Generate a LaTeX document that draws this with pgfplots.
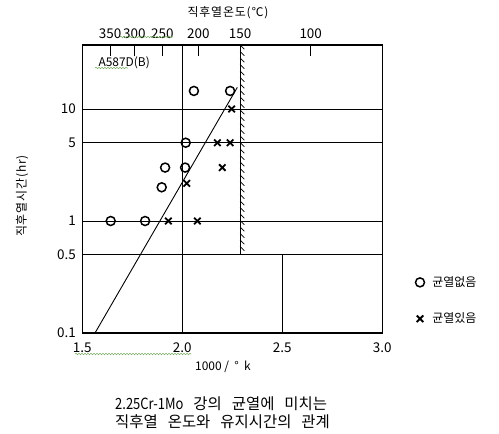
\documentclass[border=0pt]{standalone}
\usepackage{fontspec}
\setmainfont{Noto Sans CJK KR}
\usepackage{graphicx}
\usepackage{pgfplots}
\pgfplotsset{compat=1.18}
\usetikzlibrary{decorations.pathreplacing,decorations.pathmorphing}

\definecolor{spellgreen}{RGB}{125,175,105}

\newcommand{\tickfont}{\fontsize{13.5}{15}\selectfont}
\newcommand{\lblfont}{\fontsize{12}{14}\selectfont}
\newcommand{\capfont}{\fontsize{15.5}{18}\selectfont}
\newcommand{\gap}{\hspace{10bp}}

\begin{document}
\begin{tikzpicture}[x=1bp,y=1bp]
\useasboundingbox (0,0) rectangle (499,434);

\pgfplotsset{every axis/.append style={
  at={(82.3bp,101bp)}, anchor=south west,
  scale only axis, width=300bp, height=288bp,
  xmin=1.5, xmax=3.0}}

% temperature scale along the top edge
\begin{axis}[
  axis x line*=top, axis y line=none,
  ymin=0, ymax=1,
  xtick={1.639,1.760,1.900,2.080,2.289,2.642},
  xticklabels={350,300,250,200,150,100},
  tick align=inside, major tick length=11bp,
  every tick/.style={black, line width=0.9bp},
  axis line style={line width=1.2bp},
  tick label style={font=\tickfont},
  xticklabel style={yshift=3bp},
]
\end{axis}

% main diagram: holding time vs. 1000/T
\begin{axis}[
  ymode=log, ymin=0.1, ymax=37.3,
  xtick={1.5,2,2.5,3}, xticklabels={1.5,2.0,2.5,3.0},
  ytick={0.1,0.5,1,5,10}, yticklabels={0.1,0.5,1,5,10},
  major tick length=0pt,
  ymajorgrids, grid style={black, line width=0.9bp},
  axis line style={line width=1.2bp},
  tick label style={font=\tickfont},
  xticklabel style={yshift=-6bp},
  yticklabel style={xshift=-3bp},
  legend style={draw=none, fill=none, font=\lblfont,
    at={(axis description cs:1.10,0.21)}, anchor=north west,
    row sep=21bp, column sep=6bp},
  legend cell align=left,
]
\addplot[black, line width=0.9bp, forget plot] coordinates {(2,0.1) (2,37.3)};
\addplot[black, line width=0.9bp, forget plot] coordinates {(2.5,0.1) (2.5,0.5)};
% limit line with hatching on the safe side
\addplot[black, line width=0.9bp, forget plot,
  postaction={draw, line width=0.6bp, decorate,
    decoration={border, angle=45, amplitude=6bp, segment length=6.5bp}}]
  coordinates {(2.289,37.3) (2.289,0.5)};
% boundary between cracked and uncracked
\addplot[black, line width=0.9bp, forget plot] coordinates {(1.5635,0.1) (2.275,15.6)};

\addplot[only marks, mark=o, mark size=4.5bp, line width=1.5bp, black]
  coordinates {(2.058,14.5) (2.239,14.5) (2.017,5) (1.914,3) (2.014,3)
               (1.897,2) (1.642,1) (1.814,1)};
\addlegendentry{균열없음}
\addplot[only marks, mark=x, mark size=4.6bp, line width=1.8bp, black]
  coordinates {(2.247,10) (2.175,5) (2.239,5) (2.200,3) (2.022,2.17)
               (1.930,1) (2.075,1)};
\addlegendentry{균열있음}
\end{axis}

% titles and labels
\node[font=\lblfont\addfontfeature{LetterSpace=7}] at (228,421) {직후열온도(℃)};
\node[font=\lblfont\addfontfeature{LetterSpace=7}, rotate=90] at (22,238) {직후열시간(hr)};
\node[font=\lblfont] at (223,67) {1000 /\ \ °\ \ k};
\node[font=\lblfont, anchor=west] at (95,371) {A587D(B)};
\node[font=\capfont, anchor=west, inner sep=0pt] at (115,30)
  {\scalebox{0.84}[1]{2.25Cr-1Mo}\gap 강의\gap 균열에\gap 미치는};
\node[font=\capfont, anchor=west, inner sep=0pt] at (115,12.5)
  {직후열\gap 온도와\gap 유지시간의\gap 관계};

% proofing squiggles
\begin{scope}[spellgreen, line width=0.6bp,
  decoration={snake, amplitude=0.7bp, segment length=3bp}]
  \draw[decorate] (120,397) -- (173,397);
  \draw[decorate] (95,366) -- (128,366);
  \draw[decorate] (75,80) -- (191,80);
\end{scope}
\end{tikzpicture}
\end{document}
